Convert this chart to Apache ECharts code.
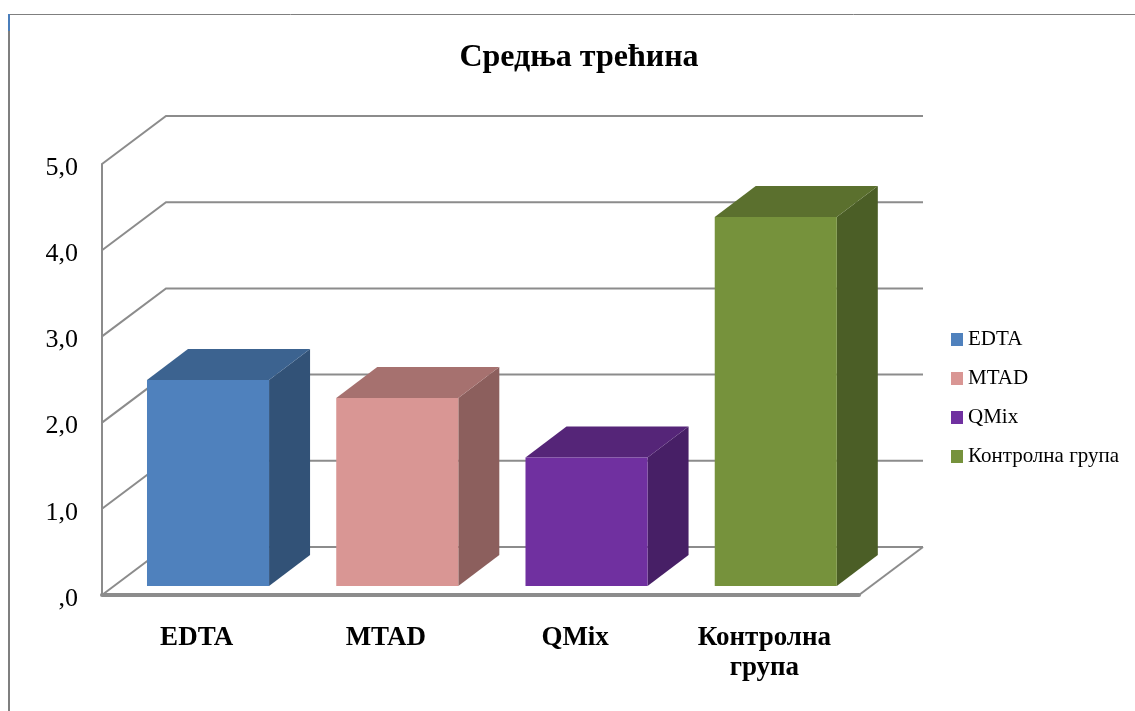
<!DOCTYPE html>
<html>
<head>
<meta charset="utf-8">
<title>Средња трећина</title>
<script src="https://cdn.jsdelivr.net/npm/echarts@6/dist/echarts.min.js"></script>
<style>
  html, body { margin: 0; padding: 0; background: #fff; }
  #chart { width: 1135px; height: 711px; }
</style>
</head>
<body>
<div id="chart"></div>
<script>
const seriesNames = ["EDTA", "MTAD", "QMix", "Контролна група"];
const tickLabels = ["EDTA", "MTAD", "QMix", "Контролна\nгрупа"];
const values = [2.39, 2.18, 1.49, 4.28];
const wallTicks = [0, 1, 2, 3, 4, 5];

const frontColors = ["#4f81bd", "#d99694", "#7030a0", "#76923c"];
const topColors = ["#3c6390", "#a6716f", "#552578", "#5b702e"];
const sideColors = ["#325277", "#8c5f5d", "#471f66", "#4b5e26"];

const FONT = '"Liberation Serif", serif';
const GRID_LINE = "#8c8c8c";
// depth of the chart box and of the bars, in pixels
const WALL_DX = 64, WALL_DY = -48;
const BAR_DX = 41, BAR_DY = -31;

// back wall, side wall and floor lines
function renderWall(params, api) {
  const rect = params.coordSys;
  const p = api.coord([0, api.value(0)]);
  const y = p[1];
  const x0 = rect.x;
  const x1 = rect.x + rect.width;
  const children = [{
    type: "polyline",
    shape: { points: [[x0, y], [x0 + WALL_DX, y + WALL_DY], [x1 + WALL_DX, y + WALL_DY]] },
    style: { stroke: GRID_LINE, lineWidth: 2, fill: null }
  }];
  if (api.value(0) === 0) {
    children.push({
      type: "line",
      shape: { x1: x1, y1: y, x2: x1 + WALL_DX, y2: y + WALL_DY },
      style: { stroke: GRID_LINE, lineWidth: 2 }
    });
  }
  return { type: "group", children: children };
}

// one 3D bar: front, top and side faces
function renderBar(idx) {
  return function (params, api) {
    const band = api.size([1, 0])[0];
    const w = band * 0.645;
    const c = api.coord([api.value(0), api.value(1)]);
    const b = api.coord([api.value(0), 0]);
    const l = c[0] + 11.4 - w / 2;
    const r = l + w;
    const t = c[1] - 9;
    const bt = b[1] - 9;
    return {
      type: "group",
      children: [
        { type: "polygon", shape: { points: [[r, t], [r + BAR_DX, t + BAR_DY], [r + BAR_DX, bt + BAR_DY], [r, bt]] }, style: { fill: sideColors[idx] } },
        { type: "polygon", shape: { points: [[l, t], [l + BAR_DX, t + BAR_DY], [r + BAR_DX, t + BAR_DY], [r, t]] }, style: { fill: topColors[idx] } },
        { type: "rect", shape: { x: l, y: t, width: w, height: bt - t }, style: { fill: frontColors[idx] } }
      ]
    };
  };
}

const series = [{
  name: "walls",
  type: "custom",
  z: 1,
  silent: true,
  clip: false,
  data: wallTicks.map((v) => [v]),
  encode: { y: 0 },
  renderItem: renderWall
}];

seriesNames.forEach((name, i) => {
  series.push({
    name: name,
    type: "custom",
    z: 3,
    clip: false,
    itemStyle: { color: frontColors[i] },
    data: [[i, values[i]]],
    encode: { x: 0, y: 1 },
    renderItem: renderBar(i)
  });
});

const chart = echarts.init(document.getElementById("chart"));
chart.setOption({
  animation: false,
  backgroundColor: "#fff",
  title: {
    text: "Средња трећина",
    left: 574,
    textAlign: "center",
    top: 37,
    textStyle: { fontFamily: FONT, fontSize: 32, fontWeight: "bold", color: "#000" }
  },
  legend: {
    data: seriesNames,
    orient: "vertical",
    left: 946,
    top: 323,
    itemWidth: 12,
    itemHeight: 13,
    itemGap: 16,
    icon: "rect",
    textStyle: { fontFamily: FONT, fontSize: 21, color: "#000", lineHeight: 23, padding: [0, 0, 0, 0] }
  },
  grid: { left: 102, top: 164, width: 757, height: 431 },
  xAxis: {
    type: "category",
    data: tickLabels,
    axisTick: { show: false },
    axisLine: { lineStyle: { color: GRID_LINE, width: 4 } },
    axisLabel: { fontFamily: FONT, fontSize: 27, fontWeight: "bold", color: "#000", margin: 28, lineHeight: 30, interval: 0 }
  },
  yAxis: {
    type: "value",
    min: 0,
    max: 5,
    interval: 1,
    splitLine: { show: false },
    axisTick: { show: false },
    axisLine: { show: true, lineStyle: { color: GRID_LINE, width: 2 } },
    axisLabel: {
      color: "#000",
      margin: 24,
      formatter: (v) => "{num|" + (v === 0 ? ",0" : v.toFixed(1).replace(".", ",")) + "}",
      rich: {
        num: { fontFamily: FONT, fontSize: 26, color: "#000", padding: [8, 0, 0, 0] }
      }
    }
  },
  graphic: [
    { type: "line", shape: { x1: 9, y1: 14.5, x2: 1135, y2: 14.5 }, style: { stroke: "#7f7f7f", lineWidth: 1 } },
    { type: "line", shape: { x1: 9, y1: 14, x2: 9, y2: 711 }, style: { stroke: "#7f7f7f", lineWidth: 2 } },
    { type: "line", shape: { x1: 9, y1: 14, x2: 9, y2: 31 }, style: { stroke: "#4a7ebb", lineWidth: 2 } }
  ],
  series: series
});
</script>
</body>
</html>
